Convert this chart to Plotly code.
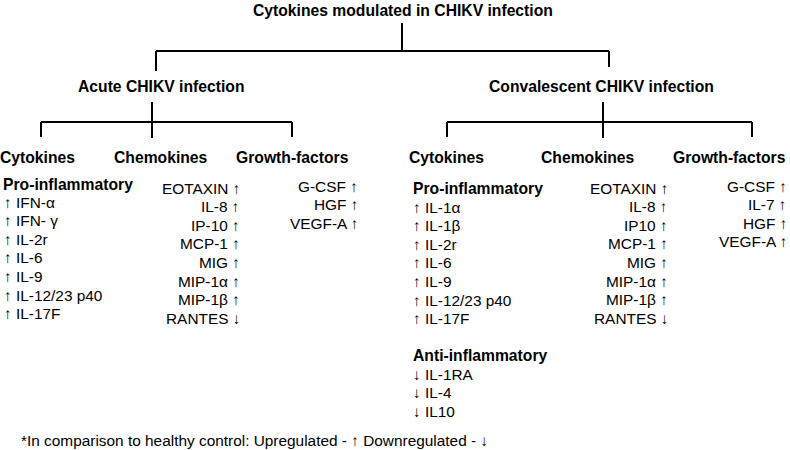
import plotly.graph_objects as go

# ---------------- data ----------------
title = "Cytokines modulated in CHIKV infection"
phases = ["Acute CHIKV infection", "Convalescent CHIKV infection"]
groups = ["Cytokines", "Chemokines", "Growth-factors"]

UP, DOWN = "\u2191", "\u2193"

acute_pro = ["IFN-\u03b1", "IFN- \u03b3", "IL-2r", "IL-6", "IL-9", "IL-12/23 p40", "IL-17F"]
acute_pro_dir = [UP] * 7
acute_chemo = ["EOTAXIN", "IL-8", "IP-10", "MCP-1", "MIG", "MIP-1\u03b1", "MIP-1\u03b2", "RANTES"]
acute_chemo_dir = [UP] * 7 + [DOWN]
acute_growth = ["G-CSF", "HGF", "VEGF-A"]
acute_growth_dir = [UP] * 3

conv_pro = ["IL-1\u03b1", "IL-1\u03b2", "IL-2r", "IL-6", "IL-9", "IL-12/23 p40", "IL-17F"]
conv_pro_dir = [UP] * 7
conv_anti = ["IL-1RA", "IL-4", "IL10"]
conv_anti_dir = [DOWN] * 3
conv_chemo = ["EOTAXIN", "IL-8", "IP10", "MCP-1", "MIG", "MIP-1\u03b1", "MIP-1\u03b2", "RANTES"]
conv_chemo_dir = [UP] * 7 + [DOWN]
conv_growth = ["G-CSF", "IL-7", "HGF", "VEGF-A"]
conv_growth_dir = [UP] * 4

footnote = "*In comparison to healthy control: Upregulated - \u2191 Downregulated - \u2193"

# ---------------- layout constants ----------------
W, H = 790, 450
FONT = "Arial, Liberation Sans, sans-serif"
BOLD_SIZE = 15.7
REG_SIZE = 15.4
STEP = 18.6

annotations = []


def txt(x, y, s, bold=False, anchor="center", size=None):
    annotations.append(dict(
        x=x, y=y, xref="x", yref="y", text=f"<b>{s}</b>" if bold else s,
        showarrow=False, xanchor=anchor, yanchor="middle",
        font=dict(family=FONT, size=size or (BOLD_SIZE if bold else REG_SIZE), color="black"),
    ))


lx, ly = [], []


def seg(x0, y0, x1, y1):
    lx.extend([x0, x1, None])
    ly.extend([y0, y1, None])


# root
txt(403, 10, title, bold=True)
seg(402, 23, 402, 51)
seg(156, 51, 609, 51)
seg(156, 51, 156, 71)
seg(609, 51, 609, 67)

phase_cfg = [
    dict(label_x=161, stem_x=152, bar=(41, 292), drops=[41, 152, 292],
         heads=[37, 161, 292]),
    dict(label_x=601, stem_x=603, bar=(447, 752), drops=[447, 603, 752],
         heads=[446, 588, 729]),
]
for name, c in zip(phases, phase_cfg):
    txt(c["label_x"], 86, name, bold=True)
    seg(c["stem_x"], 102, c["stem_x"], 138)
    seg(c["bar"][0], 122, c["bar"][1], 122)
    for d in c["drops"]:
        seg(d, 122, d, 137)
    for g, hx in zip(groups, c["heads"]):
        txt(hx, 157, g, bold=True)


def left_list(x, y0, names, dirs):
    for i, (n, d) in enumerate(zip(names, dirs)):
        txt(x, y0 + i * STEP, f"{d} {n}", anchor="left")


def right_list(x, y0, names, dirs):
    for i, (n, d) in enumerate(zip(names, dirs)):
        txt(x, y0 + i * STEP, f"{n} {d}", anchor="right")


# acute
txt(1, 184, "Pro-inflammatory", bold=True, anchor="left")
left_list(2, 202, acute_pro, acute_pro_dir)
right_list(242, 188, acute_chemo, acute_chemo_dir)
right_list(360, 186, acute_growth, acute_growth_dir)

# convalescent
txt(411, 188, "Pro-inflammatory", bold=True, anchor="left")
left_list(411, 207, conv_pro, conv_pro_dir)
txt(411, 355, "Anti-inflammatory", bold=True, anchor="left")
left_list(411, 374, conv_anti, conv_anti_dir)
right_list(670, 188, conv_chemo, conv_chemo_dir)
right_list(789, 186, conv_growth, conv_growth_dir)

txt(19, 440, footnote, anchor="left")

fig = go.Figure(go.Scatter(x=lx, y=ly, mode="lines",
                           line=dict(color="black", width=2),
                           hoverinfo="skip", showlegend=False))
fig.update_layout(
    width=W, height=H, margin=dict(l=0, r=0, t=0, b=0),
    paper_bgcolor="white", plot_bgcolor="white",
    xaxis=dict(range=[0, W], visible=False, fixedrange=True),
    yaxis=dict(range=[H, 0], visible=False, fixedrange=True),
    annotations=annotations, showlegend=False,
)
fig.write_html("out.html", config={"displayModeBar": False},
               post_script="document.body.style.margin='0';document.body.style.overflow='hidden';")
